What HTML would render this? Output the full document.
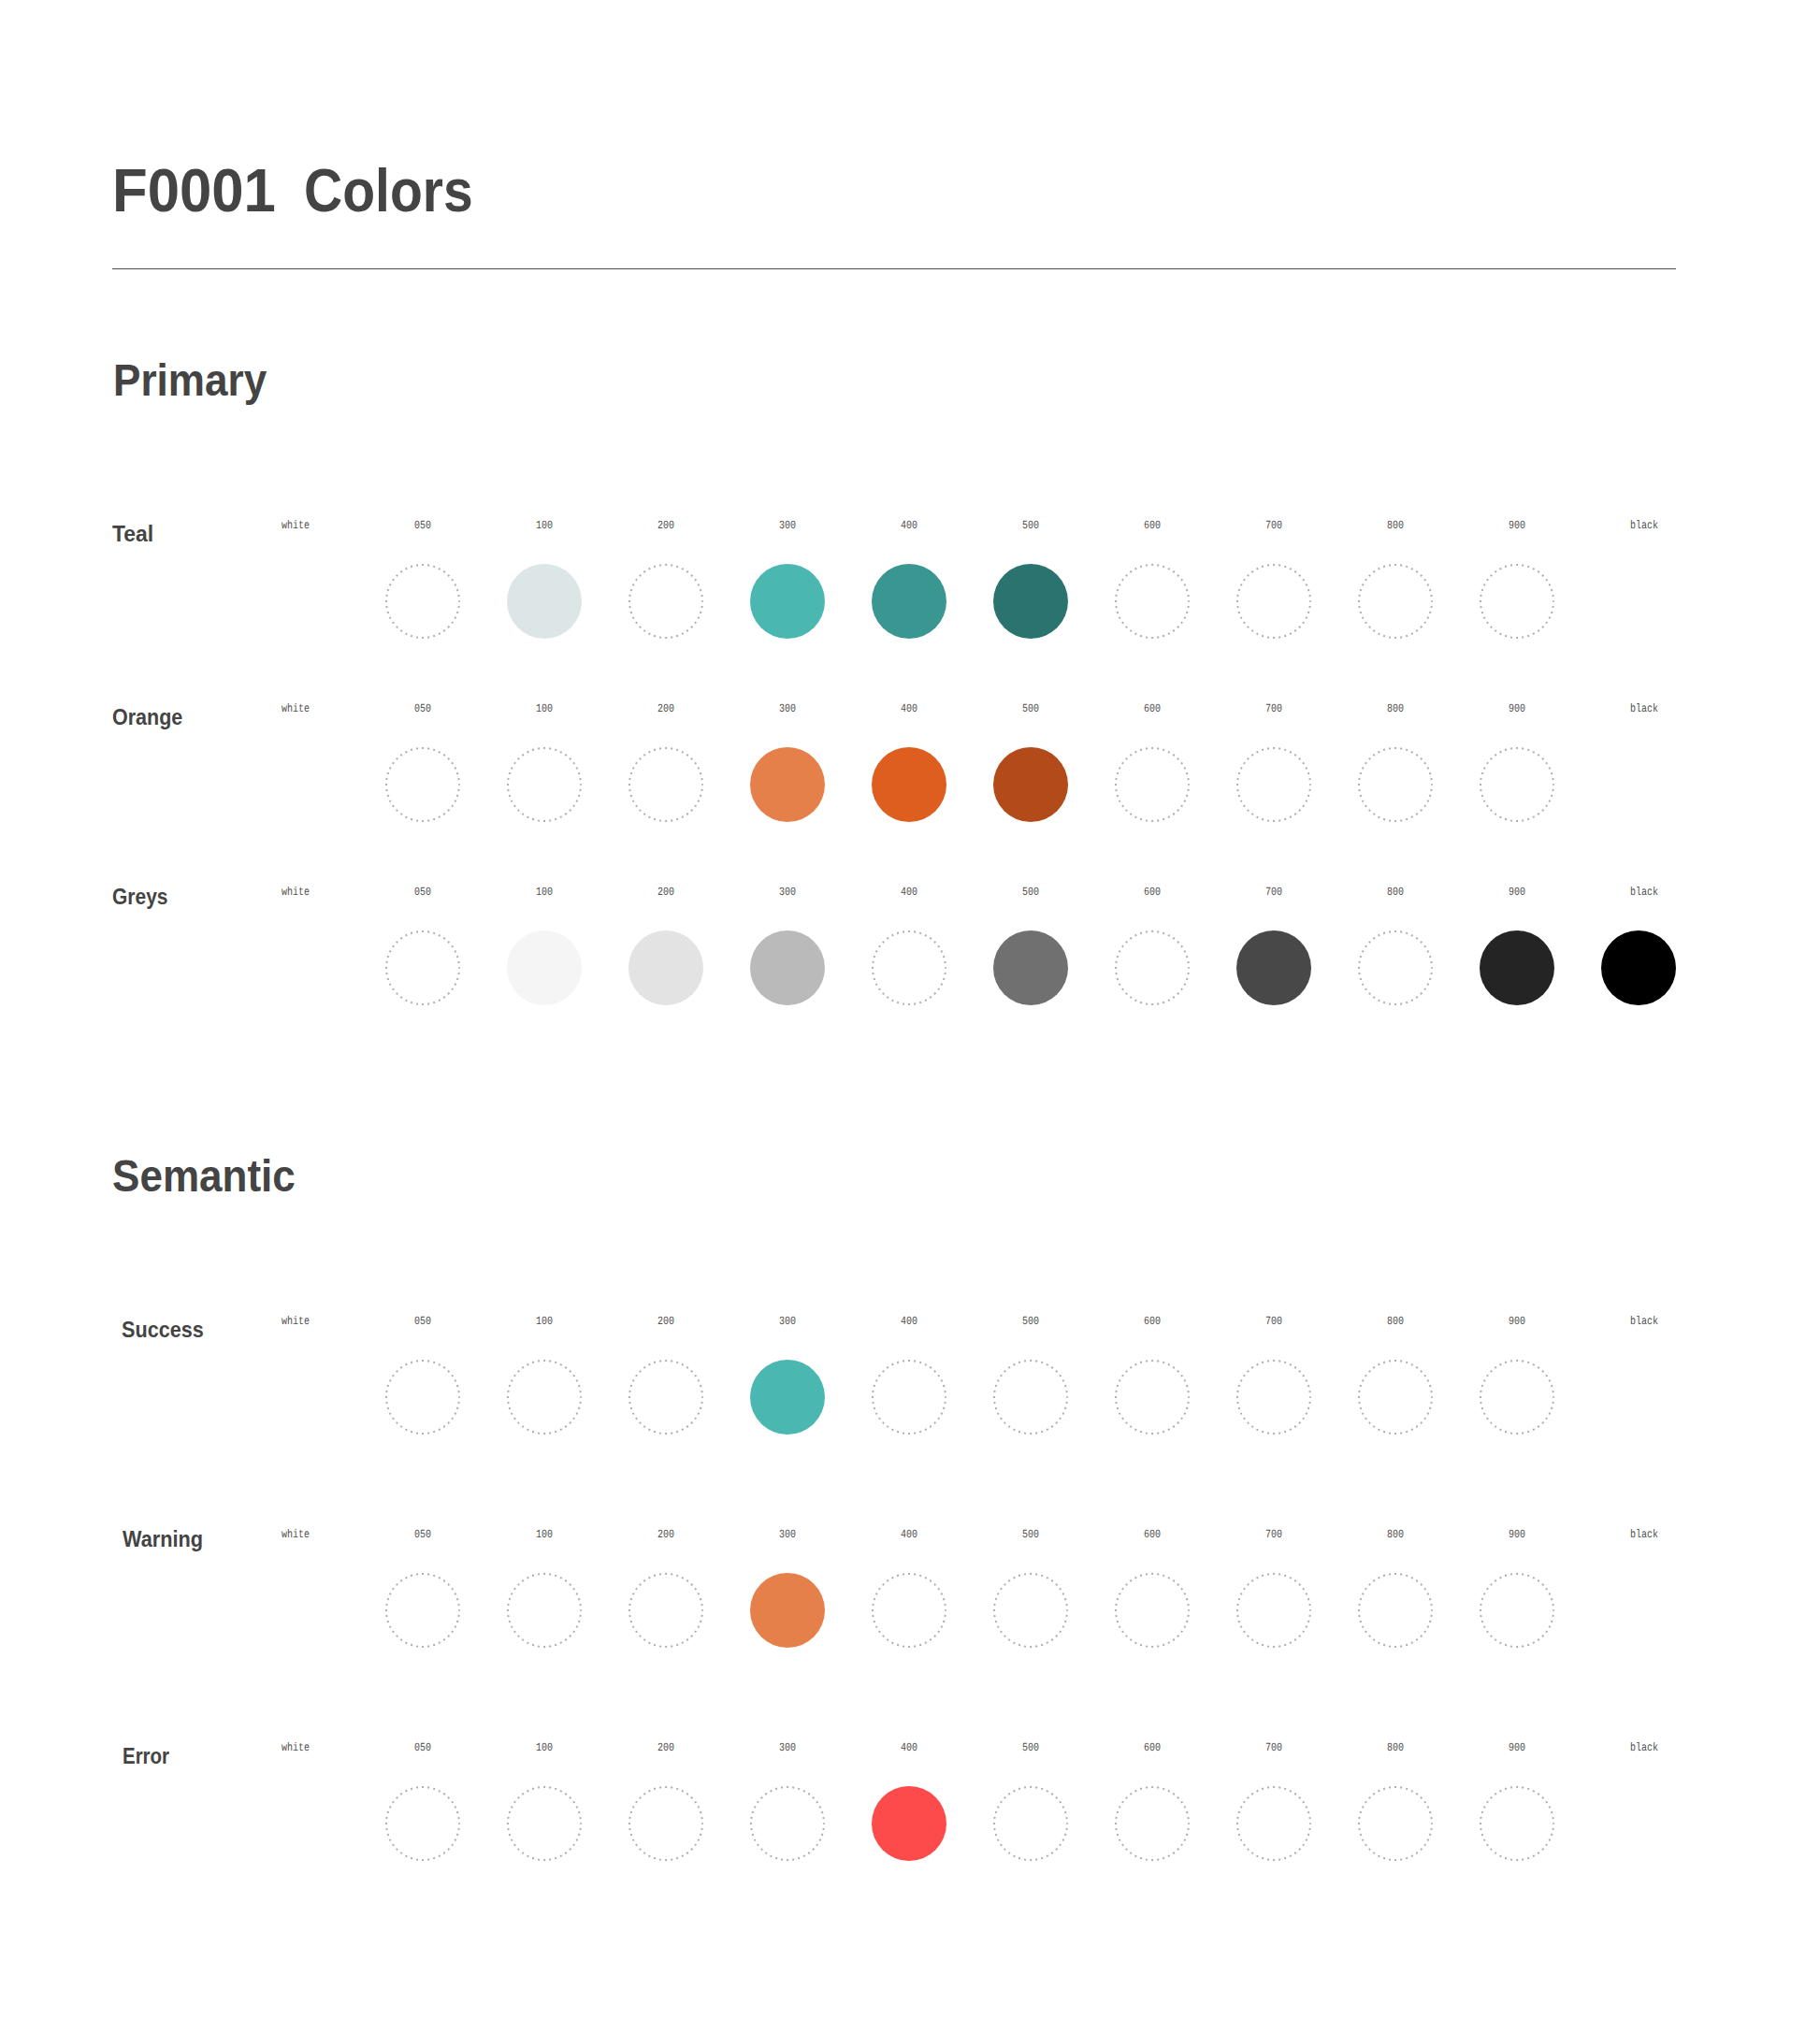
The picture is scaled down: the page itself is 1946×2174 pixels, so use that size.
<!DOCTYPE html>
<html lang="en">
<head>
<meta charset="utf-8">
<title>F0001 Colors</title>
<style>
html,body{margin:0;padding:0;background:#fff;}
body{width:1946px;height:2174px;position:relative;overflow:hidden;font-family:"Liberation Sans",sans-serif;color:#444444;}
h1,h2,h3{margin:0;font-weight:700;position:absolute;white-space:nowrap;transform-origin:0 50%;}
h1{top:166px;font-size:64.6px;line-height:76px;height:76px;left:0;width:1946px;transform:none;}
h1 span{position:absolute;top:0;display:block;transform-origin:0 50%;}
h2{font-size:48.6px;line-height:56px;}
h3{font-size:24px;line-height:28px;}
hr{position:absolute;left:120px;top:287px;width:1672px;height:1px;border:0;margin:0;background:#4c4c4c;}
.row{position:absolute;left:0;width:1946px;height:0;}
.lab{position:absolute;width:80px;margin-left:-40px;text-align:center;font-family:"Liberation Mono","DejaVu Sans Mono",monospace;font-size:12.4px;line-height:14px;color:#4e4e4e;top:-88px;transform:scaleX(0.806);text-rendering:geometricPrecision;}
.sw{position:absolute;width:80px;height:80px;margin-left:-40px;top:-40px;border-radius:50%;}
.sw svg{display:block;}
</style>
</head>
<body>
<h1><span style="left:120.00px;transform:scaleX(0.9550)">F0001</span> <span style="left:324.80px;transform:scaleX(0.8830)">Colors</span></h1>
<hr>
<h2 style="left:120.80px;top:377.50px;transform:scaleX(0.9071)">Primary</h2>
<h2 style="left:119.60px;top:1228.50px;transform:scaleX(0.9065)">Semantic</h2>
<section class="row" style="top:643px">
<h3 style="left:120.20px;top:-86.00px;transform:scaleX(0.9554)">Teal</h3>
<span class="lab" style="left:315.7px">white</span><span class="lab" style="left:452px">050</span><span class="lab" style="left:582px">100</span><span class="lab" style="left:712px">200</span><span class="lab" style="left:842px">300</span><span class="lab" style="left:972px">400</span><span class="lab" style="left:1102px">500</span><span class="lab" style="left:1232px">600</span><span class="lab" style="left:1362px">700</span><span class="lab" style="left:1492px">800</span><span class="lab" style="left:1622px">900</span><span class="lab" style="left:1758.4px">black</span>
<div class="sw" style="left:452px"><svg width="80" height="80" viewBox="0 0 80 80"><circle cx="40" cy="40" r="39" fill="none" stroke="#afafaf" stroke-width="2" stroke-dasharray="2 4.1261" stroke-dashoffset="1.2"/></svg></div><div class="sw" style="left:582px;background:#dde6e6"></div><div class="sw" style="left:712px"><svg width="80" height="80" viewBox="0 0 80 80"><circle cx="40" cy="40" r="39" fill="none" stroke="#afafaf" stroke-width="2" stroke-dasharray="2 4.1261" stroke-dashoffset="1.2"/></svg></div><div class="sw" style="left:842px;background:#4ab8b1"></div><div class="sw" style="left:972px;background:#3a9691"></div><div class="sw" style="left:1102px;background:#2b736e"></div><div class="sw" style="left:1232px"><svg width="80" height="80" viewBox="0 0 80 80"><circle cx="40" cy="40" r="39" fill="none" stroke="#afafaf" stroke-width="2" stroke-dasharray="2 4.1261" stroke-dashoffset="1.2"/></svg></div><div class="sw" style="left:1362px"><svg width="80" height="80" viewBox="0 0 80 80"><circle cx="40" cy="40" r="39" fill="none" stroke="#afafaf" stroke-width="2" stroke-dasharray="2 4.1261" stroke-dashoffset="1.2"/></svg></div><div class="sw" style="left:1492px"><svg width="80" height="80" viewBox="0 0 80 80"><circle cx="40" cy="40" r="39" fill="none" stroke="#afafaf" stroke-width="2" stroke-dasharray="2 4.1261" stroke-dashoffset="1.2"/></svg></div><div class="sw" style="left:1622px"><svg width="80" height="80" viewBox="0 0 80 80"><circle cx="40" cy="40" r="39" fill="none" stroke="#afafaf" stroke-width="2" stroke-dasharray="2 4.1261" stroke-dashoffset="1.2"/></svg></div>
</section>
<section class="row" style="top:839px">
<h3 style="left:120.10px;top:-86.00px;transform:scaleX(0.8958)">Orange</h3>
<span class="lab" style="left:315.7px">white</span><span class="lab" style="left:452px">050</span><span class="lab" style="left:582px">100</span><span class="lab" style="left:712px">200</span><span class="lab" style="left:842px">300</span><span class="lab" style="left:972px">400</span><span class="lab" style="left:1102px">500</span><span class="lab" style="left:1232px">600</span><span class="lab" style="left:1362px">700</span><span class="lab" style="left:1492px">800</span><span class="lab" style="left:1622px">900</span><span class="lab" style="left:1758.4px">black</span>
<div class="sw" style="left:452px"><svg width="80" height="80" viewBox="0 0 80 80"><circle cx="40" cy="40" r="39" fill="none" stroke="#afafaf" stroke-width="2" stroke-dasharray="2 4.1261" stroke-dashoffset="1.2"/></svg></div><div class="sw" style="left:582px"><svg width="80" height="80" viewBox="0 0 80 80"><circle cx="40" cy="40" r="39" fill="none" stroke="#afafaf" stroke-width="2" stroke-dasharray="2 4.1261" stroke-dashoffset="1.2"/></svg></div><div class="sw" style="left:712px"><svg width="80" height="80" viewBox="0 0 80 80"><circle cx="40" cy="40" r="39" fill="none" stroke="#afafaf" stroke-width="2" stroke-dasharray="2 4.1261" stroke-dashoffset="1.2"/></svg></div><div class="sw" style="left:842px;background:#e5804b"></div><div class="sw" style="left:972px;background:#dd5e1f"></div><div class="sw" style="left:1102px;background:#b34a1a"></div><div class="sw" style="left:1232px"><svg width="80" height="80" viewBox="0 0 80 80"><circle cx="40" cy="40" r="39" fill="none" stroke="#afafaf" stroke-width="2" stroke-dasharray="2 4.1261" stroke-dashoffset="1.2"/></svg></div><div class="sw" style="left:1362px"><svg width="80" height="80" viewBox="0 0 80 80"><circle cx="40" cy="40" r="39" fill="none" stroke="#afafaf" stroke-width="2" stroke-dasharray="2 4.1261" stroke-dashoffset="1.2"/></svg></div><div class="sw" style="left:1492px"><svg width="80" height="80" viewBox="0 0 80 80"><circle cx="40" cy="40" r="39" fill="none" stroke="#afafaf" stroke-width="2" stroke-dasharray="2 4.1261" stroke-dashoffset="1.2"/></svg></div><div class="sw" style="left:1622px"><svg width="80" height="80" viewBox="0 0 80 80"><circle cx="40" cy="40" r="39" fill="none" stroke="#afafaf" stroke-width="2" stroke-dasharray="2 4.1261" stroke-dashoffset="1.2"/></svg></div>
</section>
<section class="row" style="top:1035px">
<h3 style="left:120.10px;top:-90.00px;transform:scaleX(0.8740)">Greys</h3>
<span class="lab" style="left:315.7px">white</span><span class="lab" style="left:452px">050</span><span class="lab" style="left:582px">100</span><span class="lab" style="left:712px">200</span><span class="lab" style="left:842px">300</span><span class="lab" style="left:972px">400</span><span class="lab" style="left:1102px">500</span><span class="lab" style="left:1232px">600</span><span class="lab" style="left:1362px">700</span><span class="lab" style="left:1492px">800</span><span class="lab" style="left:1622px">900</span><span class="lab" style="left:1758.4px">black</span>
<div class="sw" style="left:452px"><svg width="80" height="80" viewBox="0 0 80 80"><circle cx="40" cy="40" r="39" fill="none" stroke="#afafaf" stroke-width="2" stroke-dasharray="2 4.1261" stroke-dashoffset="1.2"/></svg></div><div class="sw" style="left:582px;background:#f5f5f5"></div><div class="sw" style="left:712px;background:#e3e3e3"></div><div class="sw" style="left:842px;background:#bababa"></div><div class="sw" style="left:972px"><svg width="80" height="80" viewBox="0 0 80 80"><circle cx="40" cy="40" r="39" fill="none" stroke="#afafaf" stroke-width="2" stroke-dasharray="2 4.1261" stroke-dashoffset="1.2"/></svg></div><div class="sw" style="left:1102px;background:#707070"></div><div class="sw" style="left:1232px"><svg width="80" height="80" viewBox="0 0 80 80"><circle cx="40" cy="40" r="39" fill="none" stroke="#afafaf" stroke-width="2" stroke-dasharray="2 4.1261" stroke-dashoffset="1.2"/></svg></div><div class="sw" style="left:1362px;background:#484848"></div><div class="sw" style="left:1492px"><svg width="80" height="80" viewBox="0 0 80 80"><circle cx="40" cy="40" r="39" fill="none" stroke="#afafaf" stroke-width="2" stroke-dasharray="2 4.1261" stroke-dashoffset="1.2"/></svg></div><div class="sw" style="left:1622px;background:#242424"></div><div class="sw" style="left:1752px;background:#000000"></div>
</section>
<section class="row" style="top:1494px">
<h3 style="left:130.30px;top:-86.00px;transform:scaleX(0.9013)">Success</h3>
<span class="lab" style="left:315.7px">white</span><span class="lab" style="left:452px">050</span><span class="lab" style="left:582px">100</span><span class="lab" style="left:712px">200</span><span class="lab" style="left:842px">300</span><span class="lab" style="left:972px">400</span><span class="lab" style="left:1102px">500</span><span class="lab" style="left:1232px">600</span><span class="lab" style="left:1362px">700</span><span class="lab" style="left:1492px">800</span><span class="lab" style="left:1622px">900</span><span class="lab" style="left:1758.4px">black</span>
<div class="sw" style="left:452px"><svg width="80" height="80" viewBox="0 0 80 80"><circle cx="40" cy="40" r="39" fill="none" stroke="#afafaf" stroke-width="2" stroke-dasharray="2 4.1261" stroke-dashoffset="1.2"/></svg></div><div class="sw" style="left:582px"><svg width="80" height="80" viewBox="0 0 80 80"><circle cx="40" cy="40" r="39" fill="none" stroke="#afafaf" stroke-width="2" stroke-dasharray="2 4.1261" stroke-dashoffset="1.2"/></svg></div><div class="sw" style="left:712px"><svg width="80" height="80" viewBox="0 0 80 80"><circle cx="40" cy="40" r="39" fill="none" stroke="#afafaf" stroke-width="2" stroke-dasharray="2 4.1261" stroke-dashoffset="1.2"/></svg></div><div class="sw" style="left:842px;background:#4ab8b1"></div><div class="sw" style="left:972px"><svg width="80" height="80" viewBox="0 0 80 80"><circle cx="40" cy="40" r="39" fill="none" stroke="#afafaf" stroke-width="2" stroke-dasharray="2 4.1261" stroke-dashoffset="1.2"/></svg></div><div class="sw" style="left:1102px"><svg width="80" height="80" viewBox="0 0 80 80"><circle cx="40" cy="40" r="39" fill="none" stroke="#afafaf" stroke-width="2" stroke-dasharray="2 4.1261" stroke-dashoffset="1.2"/></svg></div><div class="sw" style="left:1232px"><svg width="80" height="80" viewBox="0 0 80 80"><circle cx="40" cy="40" r="39" fill="none" stroke="#afafaf" stroke-width="2" stroke-dasharray="2 4.1261" stroke-dashoffset="1.2"/></svg></div><div class="sw" style="left:1362px"><svg width="80" height="80" viewBox="0 0 80 80"><circle cx="40" cy="40" r="39" fill="none" stroke="#afafaf" stroke-width="2" stroke-dasharray="2 4.1261" stroke-dashoffset="1.2"/></svg></div><div class="sw" style="left:1492px"><svg width="80" height="80" viewBox="0 0 80 80"><circle cx="40" cy="40" r="39" fill="none" stroke="#afafaf" stroke-width="2" stroke-dasharray="2 4.1261" stroke-dashoffset="1.2"/></svg></div><div class="sw" style="left:1622px"><svg width="80" height="80" viewBox="0 0 80 80"><circle cx="40" cy="40" r="39" fill="none" stroke="#afafaf" stroke-width="2" stroke-dasharray="2 4.1261" stroke-dashoffset="1.2"/></svg></div>
</section>
<section class="row" style="top:1722px">
<h3 style="left:130.80px;top:-90.00px;transform:scaleX(0.9040)">Warning</h3>
<span class="lab" style="left:315.7px">white</span><span class="lab" style="left:452px">050</span><span class="lab" style="left:582px">100</span><span class="lab" style="left:712px">200</span><span class="lab" style="left:842px">300</span><span class="lab" style="left:972px">400</span><span class="lab" style="left:1102px">500</span><span class="lab" style="left:1232px">600</span><span class="lab" style="left:1362px">700</span><span class="lab" style="left:1492px">800</span><span class="lab" style="left:1622px">900</span><span class="lab" style="left:1758.4px">black</span>
<div class="sw" style="left:452px"><svg width="80" height="80" viewBox="0 0 80 80"><circle cx="40" cy="40" r="39" fill="none" stroke="#afafaf" stroke-width="2" stroke-dasharray="2 4.1261" stroke-dashoffset="1.2"/></svg></div><div class="sw" style="left:582px"><svg width="80" height="80" viewBox="0 0 80 80"><circle cx="40" cy="40" r="39" fill="none" stroke="#afafaf" stroke-width="2" stroke-dasharray="2 4.1261" stroke-dashoffset="1.2"/></svg></div><div class="sw" style="left:712px"><svg width="80" height="80" viewBox="0 0 80 80"><circle cx="40" cy="40" r="39" fill="none" stroke="#afafaf" stroke-width="2" stroke-dasharray="2 4.1261" stroke-dashoffset="1.2"/></svg></div><div class="sw" style="left:842px;background:#e5804b"></div><div class="sw" style="left:972px"><svg width="80" height="80" viewBox="0 0 80 80"><circle cx="40" cy="40" r="39" fill="none" stroke="#afafaf" stroke-width="2" stroke-dasharray="2 4.1261" stroke-dashoffset="1.2"/></svg></div><div class="sw" style="left:1102px"><svg width="80" height="80" viewBox="0 0 80 80"><circle cx="40" cy="40" r="39" fill="none" stroke="#afafaf" stroke-width="2" stroke-dasharray="2 4.1261" stroke-dashoffset="1.2"/></svg></div><div class="sw" style="left:1232px"><svg width="80" height="80" viewBox="0 0 80 80"><circle cx="40" cy="40" r="39" fill="none" stroke="#afafaf" stroke-width="2" stroke-dasharray="2 4.1261" stroke-dashoffset="1.2"/></svg></div><div class="sw" style="left:1362px"><svg width="80" height="80" viewBox="0 0 80 80"><circle cx="40" cy="40" r="39" fill="none" stroke="#afafaf" stroke-width="2" stroke-dasharray="2 4.1261" stroke-dashoffset="1.2"/></svg></div><div class="sw" style="left:1492px"><svg width="80" height="80" viewBox="0 0 80 80"><circle cx="40" cy="40" r="39" fill="none" stroke="#afafaf" stroke-width="2" stroke-dasharray="2 4.1261" stroke-dashoffset="1.2"/></svg></div><div class="sw" style="left:1622px"><svg width="80" height="80" viewBox="0 0 80 80"><circle cx="40" cy="40" r="39" fill="none" stroke="#afafaf" stroke-width="2" stroke-dasharray="2 4.1261" stroke-dashoffset="1.2"/></svg></div>
</section>
<section class="row" style="top:1950px">
<h3 style="left:130.50px;top:-86.00px;transform:scaleX(0.8521)">Error</h3>
<span class="lab" style="left:315.7px">white</span><span class="lab" style="left:452px">050</span><span class="lab" style="left:582px">100</span><span class="lab" style="left:712px">200</span><span class="lab" style="left:842px">300</span><span class="lab" style="left:972px">400</span><span class="lab" style="left:1102px">500</span><span class="lab" style="left:1232px">600</span><span class="lab" style="left:1362px">700</span><span class="lab" style="left:1492px">800</span><span class="lab" style="left:1622px">900</span><span class="lab" style="left:1758.4px">black</span>
<div class="sw" style="left:452px"><svg width="80" height="80" viewBox="0 0 80 80"><circle cx="40" cy="40" r="39" fill="none" stroke="#afafaf" stroke-width="2" stroke-dasharray="2 4.1261" stroke-dashoffset="1.2"/></svg></div><div class="sw" style="left:582px"><svg width="80" height="80" viewBox="0 0 80 80"><circle cx="40" cy="40" r="39" fill="none" stroke="#afafaf" stroke-width="2" stroke-dasharray="2 4.1261" stroke-dashoffset="1.2"/></svg></div><div class="sw" style="left:712px"><svg width="80" height="80" viewBox="0 0 80 80"><circle cx="40" cy="40" r="39" fill="none" stroke="#afafaf" stroke-width="2" stroke-dasharray="2 4.1261" stroke-dashoffset="1.2"/></svg></div><div class="sw" style="left:842px"><svg width="80" height="80" viewBox="0 0 80 80"><circle cx="40" cy="40" r="39" fill="none" stroke="#afafaf" stroke-width="2" stroke-dasharray="2 4.1261" stroke-dashoffset="1.2"/></svg></div><div class="sw" style="left:972px;background:#fd4a4b"></div><div class="sw" style="left:1102px"><svg width="80" height="80" viewBox="0 0 80 80"><circle cx="40" cy="40" r="39" fill="none" stroke="#afafaf" stroke-width="2" stroke-dasharray="2 4.1261" stroke-dashoffset="1.2"/></svg></div><div class="sw" style="left:1232px"><svg width="80" height="80" viewBox="0 0 80 80"><circle cx="40" cy="40" r="39" fill="none" stroke="#afafaf" stroke-width="2" stroke-dasharray="2 4.1261" stroke-dashoffset="1.2"/></svg></div><div class="sw" style="left:1362px"><svg width="80" height="80" viewBox="0 0 80 80"><circle cx="40" cy="40" r="39" fill="none" stroke="#afafaf" stroke-width="2" stroke-dasharray="2 4.1261" stroke-dashoffset="1.2"/></svg></div><div class="sw" style="left:1492px"><svg width="80" height="80" viewBox="0 0 80 80"><circle cx="40" cy="40" r="39" fill="none" stroke="#afafaf" stroke-width="2" stroke-dasharray="2 4.1261" stroke-dashoffset="1.2"/></svg></div><div class="sw" style="left:1622px"><svg width="80" height="80" viewBox="0 0 80 80"><circle cx="40" cy="40" r="39" fill="none" stroke="#afafaf" stroke-width="2" stroke-dasharray="2 4.1261" stroke-dashoffset="1.2"/></svg></div>
</section>
</body>
</html>
